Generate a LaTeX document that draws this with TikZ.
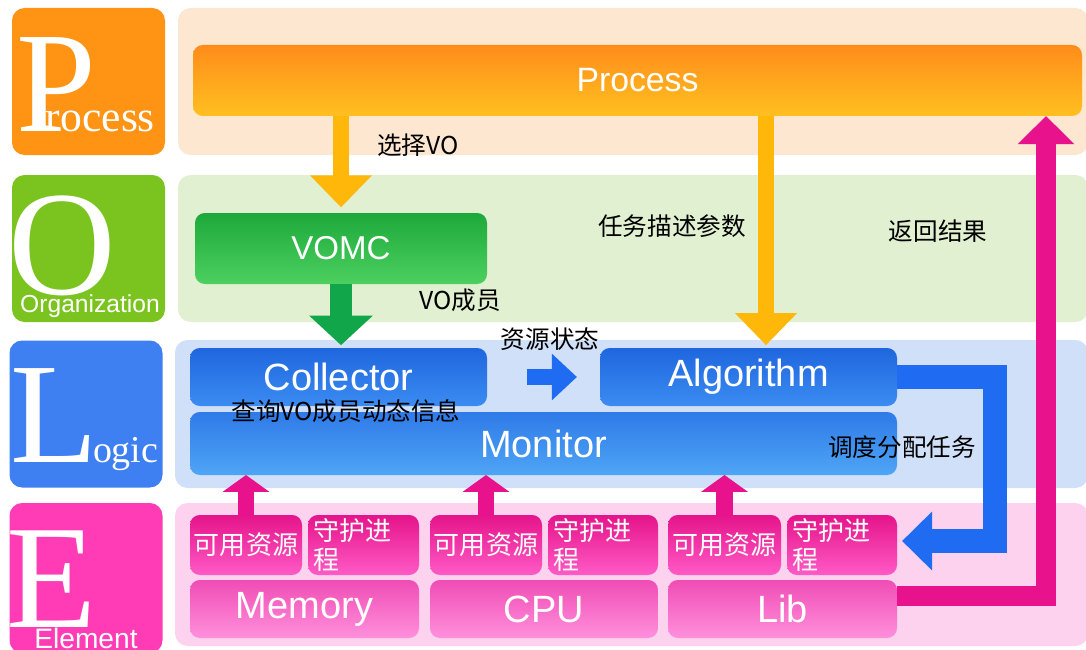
\documentclass[tikz,border=0pt]{standalone}
\usepackage{fontspec}
\setmainfont{Liberation Serif}
\setsansfont{Liberation Sans}
\newfontfamily\cjk{Noto Sans CJK SC}
\usetikzlibrary{arrows.meta,calc}

\definecolor{tileP}{HTML}{FF9314}
\definecolor{tileO}{HTML}{7BC41F}
\definecolor{tileL}{HTML}{3E7FF1}
\definecolor{tileE}{HTML}{FF3CB6}
\definecolor{bandP}{HTML}{FDE7D0}
\definecolor{bandO}{HTML}{E1F0D1}
\definecolor{bandL}{HTML}{D0E0F8}
\definecolor{bandE}{HTML}{FDD2EE}
\definecolor{arrowOrange}{HTML}{FFB70A}
\definecolor{arrowGreen}{HTML}{11A64A}
\definecolor{arrowBlue}{HTML}{1F6BF2}
\definecolor{arrowPink}{HTML}{E8128C}
\definecolor{procTop}{HTML}{FF8C1A}
\definecolor{procBot}{HTML}{FFC020}
\definecolor{vomcTop}{HTML}{1DA93A}
\definecolor{vomcBot}{HTML}{4CD060}
\definecolor{logicTop}{HTML}{1F66DE}
\definecolor{logicBot}{HTML}{3B8CF2}
\definecolor{monTop}{HTML}{2F7AE8}
\definecolor{monBot}{HTML}{4EA5F5}
\definecolor{elemTop}{HTML}{E5148A}
\definecolor{elemBot}{HTML}{FF5AC6}
\definecolor{baseTop}{HTML}{F04CB5}
\definecolor{baseBot}{HTML}{FF90DC}

\begin{document}
\begin{tikzpicture}[x=0.025cm,y=-0.025cm,
    every node/.style={inner sep=0pt,outer sep=0pt},
    sz/.style 2 args={minimum width=#1*0.025cm,minimum height=#2*0.025cm},
    tile/.style={rounded corners=9pt,sz={153}{147}},
    band/.style={rounded corners=9pt},
    box/.style={rounded corners=7pt,text=white,font=\sffamily\fontsize{27}{30}\selectfont},
    procbox/.style={box,top color=procTop,bottom color=procBot},
    logicbox/.style={box,top color=logicTop,bottom color=logicBot},
    elembox/.style={box,top color=elemTop,bottom color=elemBot,font=\cjk\fontsize{18.5}{21}\selectfont},
    basebox/.style={box,top color=baseTop,bottom color=baseBot},
    lbl/.style={font=\cjk\fontsize{17.5}{20}\selectfont,text=black},
    bigletter/.style={text=white,font=\rmfamily\fontsize{102}{102}\selectfont},
    orangearrow/.style={draw=arrowOrange,line width=10.7pt,-{Triangle[width=42.7pt,length=22.8pt]}},
    greenarrow/.style={draw=arrowGreen,line width=15.6pt,-{Triangle[width=44pt,length=21pt]}},
    bluearrow/.style={draw=arrowBlue,line width=10.7pt,-{Triangle[width=32pt,length=17.8pt]}},
    bluebend/.style={draw=arrowBlue,line width=17pt,line join=miter,-{Triangle[width=40.5pt,length=21.3pt]}},
    pinkbend/.style={draw=arrowPink,line width=14.2pt,line join=miter,-{Triangle[width=39pt,length=20pt]}},
    pinkup/.style={draw=arrowPink,line width=11.4pt,-{Triangle[width=32.7pt,length=12pt]}}]

\useasboundingbox (0,0) rectangle (1086,650);

% letter tiles
\node[tile,fill=tileP] (tileP) at (88.5,81.5) {};
\node[tile,fill=tileO] (tileO) at (88.5,248.5) {};
\node[tile,fill=tileL] (tileL) at (86,414) {};
\node[tile,fill=tileE,sz={153}{150}] (tileE) at (86,578) {};

\node[bigletter,anchor=base west] (letP) at (17,132) {P};
\node[text=white,font=\rmfamily\fontsize{31}{31}\selectfont,anchor=base west] (txtP) at (46,132) {rocess};
\node[bigletter,font=\rmfamily\fontsize{106}{106}\selectfont] (letO) at (62,246) {O};
\node[text=white,font=\sffamily\fontsize{17.5}{18}\selectfont,anchor=base] (txtO) at (90,312) {Organization};
\node[bigletter,anchor=base west] (letL) at (10,462) {L};
\node[text=white,font=\rmfamily\fontsize{27}{27}\selectfont,anchor=base west] (txtL) at (93,462) {ogic};
\node[bigletter,font=\rmfamily\fontsize{105}{105}\selectfont,anchor=base west] (letE) at (7,627) {E};
\node[text=white,font=\sffamily\fontsize{20}{20}\selectfont,anchor=base] (txtE) at (86,648) {Element};

% layer bands
\path[band,fill=bandP] (178,8) rectangle (1088,155);
\path[band,fill=bandO] (178,175) rectangle (1088,322);
\path[band,fill=bandL] (175,340) rectangle (1088,488);
\path[band,fill=bandE] (175,503) rectangle (1088,646);

% boxes
\node[procbox,sz={889}{71},font=\sffamily\fontsize{24}{26}\selectfont] (process) at (637.5,80.5) {Process};
\node[box,sz={292}{71},top color=vomcTop,bottom color=vomcBot,font=\sffamily\fontsize{23.5}{26}\selectfont] (vomc) at (341,248.5) {VOMC};
\node[logicbox,sz={297}{58}] (collector) at (338.5,377) {Collector};
\node[logicbox,sz={297}{58}] (algorithm) at (748.5,377) {Algorithm};
\node[logicbox,sz={707}{63},top color=monTop,bottom color=monBot] (monitor) at (543.5,443.5) {Monitor};

\node[elembox,sz={112}{60}] (avail1) at (246,545) {可用资源};
\node[elembox,sz={111}{60},inner xsep=5*0.025cm,text width=101*0.025cm,align=left] (daemon1) at (363.5,545) {守护进\\程};
\node[elembox,sz={112}{60}] (avail2) at (486,545) {可用资源};
\node[elembox,sz={110}{60},inner xsep=5*0.025cm,text width=100*0.025cm,align=left] (daemon2) at (603,545) {守护进\\程};
\node[elembox,sz={113}{60}] (avail3) at (724.5,545) {可用资源};
\node[elembox,sz={110}{60},inner xsep=5*0.025cm,text width=100*0.025cm,align=left] (daemon3) at (842,545) {守护进\\程};

\node[basebox,sz={229}{58}] (memory) at (304.5,609) {Memory};
\node[basebox,sz={228}{58}] (cpu) at (544,609) {CPU};
\node[basebox,sz={229}{58}] (lib) at (782.5,609) {Lib};

% arrows
\coordinate (taskx) at ($(algorithm.north)+(17.5,0)$);
\coordinate (rettop) at ($(process.south east)+(-36,0)$);
\draw[orangearrow,shorten >=4pt] (process.south -| vomc) -- (vomc.north);
\draw[orangearrow,shorten >=2pt] (taskx |- process.south) -- (taskx);
\draw[greenarrow,shorten >=2pt] (vomc.south) -- (vomc.south |- collector.north);
\draw[bluearrow,shorten <=28.5pt,shorten >=16.4pt] (collector.east) -- (algorithm.west);
\draw[bluebend,shorten >=3.6pt] (algorithm.east) -- ++(98,0) |- ($(daemon3.east)+(0,-4)$);
\draw[pinkbend] ($(lib.east)+(0,-13)$) -| (rettop);
\foreach \a in {avail1,avail2,avail3}
  \draw[pinkup] (\a.north) -- (\a.north |- monitor.south);

% labels
\node[lbl] (lblSelect) at (418,145) {选择VO};
\node[lbl] (lblMember) at (460,300) {VO成员};
\node[lbl] (lblTask) at (672,226) {任务描述参数};
\node[lbl] (lblReturn) at (938,231) {返回结果};
\node[lbl] (lblState) at (550,339) {资源状态};
\node[lbl] (lblQuery) at (346,411) {查询VO成员动态信息};
\node[lbl] (lblDispatch) at (902,447) {调度分配任务};
\end{tikzpicture}
\end{document}
